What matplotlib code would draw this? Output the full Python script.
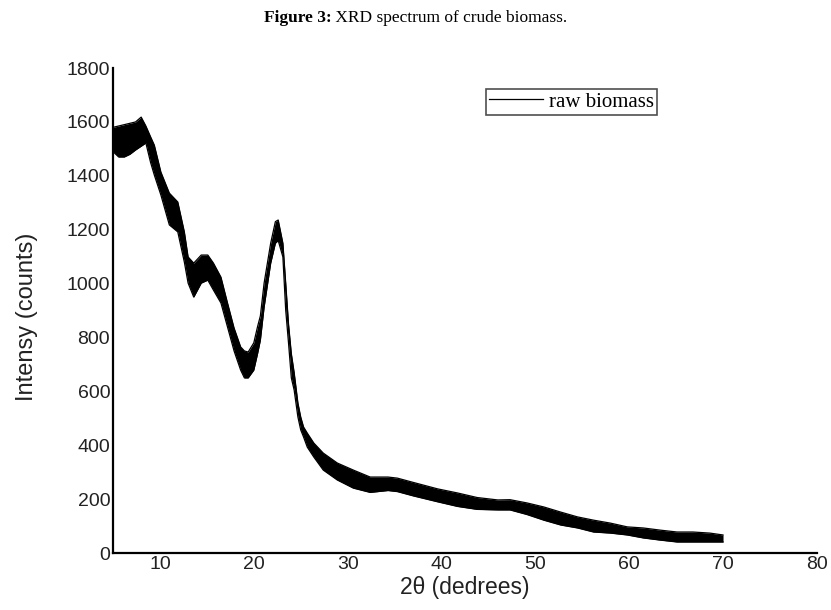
import matplotlib
matplotlib.use('Agg')
import matplotlib.pyplot as plt

# ---- data (noisy band: lower / upper envelope) ----
two_theta = [5.0, 5.6, 6.2, 6.8, 7.4, 8.0, 8.5, 9.0, 9.4, 10.1, 11.0, 11.9,
             12.6, 13.0, 13.6, 14.4, 15.1, 15.7, 16.5, 17.2, 17.9, 18.6,
             19.0, 19.4, 20.0, 20.4, 20.7, 21.1, 21.8, 22.3, 22.6, 23.1,
             23.4, 23.7, 24.0, 24.3, 24.7, 25.0, 25.3, 25.7, 26.4, 27.4,
             28.9, 30.6, 32.4, 34.3, 35.3, 37.0, 39.6, 41.7, 43.8, 46.0,
             47.3, 49.1, 50.9, 52.7, 54.5, 56.2, 58.0, 59.8, 61.5, 63.3,
             65.1, 66.8, 68.6, 70.0]
intensity_low = [1490, 1470, 1470, 1480, 1496, 1510, 1522, 1450, 1403, 1329,
                 1218, 1192, 1080, 1002, 950, 1002, 1013, 976, 928, 839,
                 750, 679, 650, 650, 679, 740, 790, 913, 1076, 1150, 1160,
                 1099, 902, 780, 650, 605, 505, 457, 431, 393, 356, 308,
                 271, 241, 225, 232, 228, 212, 190, 173, 162, 160, 160, 143,
                 122, 104, 93, 78, 74, 67, 56, 48, 41, 41, 41, 41]
intensity_high = [1580, 1585, 1590, 1595, 1600, 1618, 1585, 1545, 1514, 1414,
                  1336, 1303, 1192, 1099, 1076, 1106, 1106, 1076, 1024, 928,
                  835, 765, 750, 746, 780, 840, 880, 1002, 1150, 1230, 1236,
                  1150, 1002, 850, 740, 670, 557, 505, 468, 445, 408, 371,
                  334, 308, 282, 282, 278, 262, 238, 223, 206, 197, 198, 186,
                  171, 152, 134, 122, 111, 97, 93, 85, 78, 78, 74, 67]
series_label = "raw biomass"
x_ticks = [10, 20, 30, 40, 50, 60, 70, 80]
y_ticks = [0, 200, 400, 600, 800, 1000, 1200, 1400, 1600, 1800]

sans = ['Liberation Sans', 'DejaVu Sans']
serif = ['Liberation Serif', 'DejaVu Serif']

fig = plt.figure(figsize=(8.31, 6.10), dpi=100)
ax = fig.add_axes([0.136, 0.0934, 0.847, 0.795])

ax.fill_between(two_theta, intensity_low, intensity_high, color='black', lw=0)
ax.plot(two_theta, intensity_low, color='black', lw=0.9)
ax.plot(two_theta, intensity_high, color='black', lw=0.9, label=series_label)

ax.set_xlim(5, 80)
ax.set_ylim(0, 1800)
ax.set_xticks(x_ticks)
ax.set_yticks(y_ticks)
ax.set_xticklabels([str(t) for t in x_ticks], family=sans, fontsize=14, color='#222222')
ax.set_yticklabels([str(t) for t in y_ticks], family=sans, fontsize=14, color='#222222')
ax.tick_params(length=0, pad=2)

for s in ['top', 'right']:
    ax.spines[s].set_visible(False)
for s in ['left', 'bottom']:
    ax.spines[s].set_linewidth(1.6)
    ax.spines[s].set_color('black')

ax.set_xlabel('2θ (dedrees)', family=sans, fontsize=16.5, color='#222222')
ax.set_ylabel('Intensy (counts)', family=sans, fontsize=17, color='#222222')
ax.xaxis.set_label_coords(0.5, -0.048)
ax.yaxis.set_label_coords(-0.106, 0.487)

leg = ax.legend(loc='upper left', bbox_to_anchor=(0.530, 0.957), borderaxespad=0,
                frameon=True, fancybox=False, borderpad=0.15, handlelength=2.6,
                handletextpad=0.25, prop={'family': serif, 'size': 15})
leg.get_frame().set_edgecolor('#222222')
leg.get_frame().set_linewidth(1.2)

# title: bold "Figure 3:" + regular rest, centred
fig.canvas.draw()
r = fig.canvas.get_renderer()
t1 = fig.text(0, 0.970, 'Figure 3:', family=serif, fontsize=12.5, weight='bold', va='center')
t2 = fig.text(0, 0.970, ' XRD spectrum of crude biomass.', family=serif, fontsize=12.5, va='center')
w1 = t1.get_window_extent(r).width
w2 = t2.get_window_extent(r).width
W = fig.bbox.width
x0 = (W - (w1 + w2)) / 2.0
t1.set_x(x0 / W)
t2.set_x((x0 + w1) / W)

fig.savefig('out.png', dpi=100)
